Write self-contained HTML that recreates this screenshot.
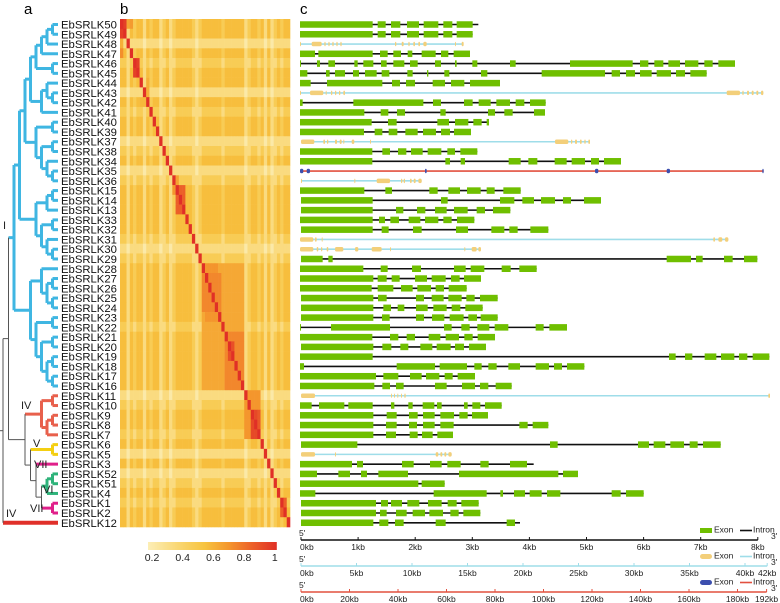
<!DOCTYPE html>
<html><head><meta charset="utf-8">
<style>
html,body{margin:0;padding:0;background:#fff;}
svg{display:block;font-family:"Liberation Sans",sans-serif;}
</style></head>
<body>
<svg id="fig" width="780" height="603" viewBox="0 0 780 603" xmlns="http://www.w3.org/2000/svg">
<text x="24" y="14" font-size="15">a</text>
<text x="120" y="14" font-size="15">b</text>
<text x="300" y="14" font-size="15">c</text>
<g id="tree"></g>
<g id="labels"></g>
<g id="heat"></g>
<g id="cbar"></g>
<g id="genes"></g>
<g id="axes"></g>
</svg>
<script>
// ---------- data ----------
const geneNames = ["50","49","48","47","46","45","44","43","42","41","40","39","37","38","34","35","36","15","14","13","33","32","31","30","29","28","27","26","25","24","23","22","21","20","19","18","17","16","11","10","9","8","7","6","5","3","52","51","4","1","2","12"];
const lightIdx = [2,7,12,15,23,38,44,46];
const midIdx = [4,9,13,16,22,24,31,39,42,47,49];
// heatmap blocks: [rowStart,rowEnd,colStart,colEnd,value]
const heatBlocks = [
 [0,1,0,1,0.95],[3,3,0,0,0.72],[0,0,2,2,0.65],[4,5,4,5,0.95],[6,8,8,8,0.62],
 [17,19,17,19,0.85],[16,17,16,16,0.7],
 [25,37,25,37,0.64],[26,29,25,30,0.74],[32,37,32,37,0.74],[33,34,33,34,0.9],
 [38,42,38,42,0.7],[40,42,40,41,0.92],[49,50,49,50,0.85]
];
const heatBase = 0.57, heatMid = 0.48, heatLight = 0.35, heatLighter = 0.24;
// gene structures (positions in structure units along panel c)
const genes = [
{t:'g',ex:[[15,233],[248,272],[288,316],[336,372],[386,430],[445,472],[485,533]],end:550},
{t:'g',ex:[[15,233],[248,272],[288,316],[336,372],[386,430],[445,472],[485,533]]},
{t:'y',ex:[[15,18],[50,80],[88,92],[100,104],[112,116],[124,128],[136,140],[300,304],[320,326],[340,344],[355,360],[370,375],[385,395],[480,483],[500,506]],end:505},
{t:'g',ex:[[15,60],[70,233],[255,278],[295,318],[338,352],[380,422],[438,460],[476,525]]},
{t:'g',ex:[[15,18],[66,75],[100,120],[178,188],[205,235],[258,275],[295,328],[345,368],[420,438],[480,485],[532,547],[645,662],[825,1013],[1035,1060],[1078,1105],[1120,1155],[1170,1210],[1228,1253],[1270,1320]]},
{t:'g',ex:[[15,37],[93,104],[120,150],[174,192],[210,245],[260,283],[337,353],[396,400],[448,463],[558,577],[740,930],[950,975],[993,1020],[1035,1070],[1085,1128],[1143,1170],[1186,1235]]},
{t:'g',ex:[[15,47],[96,262],[291,315],[333,360],[413,450],[468,508],[525,615]]},
{t:'y',ex:[[15,18],[45,85],[92,95],[108,112],[120,124],[132,136],[145,150],[1295,1335],[1342,1346],[1356,1362],[1370,1376],[1384,1390],[1398,1405]]},
{t:'g',ex:[[15,23],[175,385],[414,438],[507,533],[551,587],[604,645],[662,688],[705,752]]},
{t:'g',ex:[[15,208],[257,280],[306,330],[436,452],[579,600],[628,653],[717,750]]},
{t:'g',ex:[[15,230],[279,305],[427,462],[480,520],[535,560],[575,582]]},
{t:'g',ex:[[15,207],[239,262],[281,307],[331,368],[384,423],[438,465],[477,528]]},
{t:'y',ex:[[18,58],[85,90],[96,100],[120,126],[134,140],[145,148],[170,178],[225,228],[780,820],[828,832],[840,846],[855,860],[868,872],[880,885]]},
{t:'g',ex:[[15,232],[262,285],[309,334],[348,383],[398,439],[457,480],[496,547]]},
{t:'g',ex:[[15,232],[451,465],[497,510],[641,677],[700,727],[779,815],[830,870],[888,912],[927,978]]},
{t:'r',ex:[[15,25],[35,45],[390,395],[900,910],[1115,1125],[1402,1406]]},
{t:'y',ex:[[18,20],[178,180],[245,285],[318,322],[326,330],[345,350],[356,362],[370,380]]},
{t:'g',ex:[[15,208],[271,291],[403,428],[460,495],[516,557],[575,599],[625,677]]},
{t:'g',ex:[[18,233],[438,458],[615,658],[682,717],[738,780],[804,828],[867,918]]},
{t:'g',ex:[[18,233],[303,325],[366,391],[420,455],[477,518],[545,570],[594,646]]},
{t:'g',ex:[[15,233],[252,270],[286,312],[341,376],[390,430],[445,470],[486,538]]},
{t:'g',ex:[[18,233],[260,281],[354,380],[483,519],[589,628],[643,668],[706,760]]},
{t:'y',ex:[[15,55],[60,65],[80,82],[1255,1260],[1270,1282],[1290,1300]]},
{t:'y',ex:[[15,55],[65,70],[78,82],[95,100],[120,145],[180,190],[230,260],[285,288],[508,510],[530,545],[550,558]]},
{t:'g',ex:[[18,83],[100,113],[1115,1188],[1203,1223],[1287,1313],[1347,1387]]},
{t:'g',ex:[[15,205],[257,278],[351,378],[477,512],[527,568],[620,647],[673,725]]},
{t:'g',ex:[[15,235],[248,275],[290,314],[360,396],[410,452],[468,494],[507,558]]},
{t:'g',ex:[[15,230],[248,295],[318,353],[367,408],[422,447],[461,515]]},
{t:'g',ex:[[18,235],[249,275],[363,387],[410,446],[460,500],[514,539],[555,608]]},
{t:'g',ex:[[18,235],[265,288],[308,328],[363,398],[415,455],[470,496],[511,563]]},
{t:'g',ex:[[18,235],[261,284],[363,387],[411,448],[464,506],[520,546],[557,608]]},
{t:'g',ex:[[15,17],[108,285],[447,470],[499,524],[547,583],[599,640],[722,746],[763,816]]},
{t:'g',ex:[[15,232],[285,310],[335,360],[401,436],[452,492],[508,533],[548,600]]},
{t:'g',ex:[[18,235],[262,289],[316,340],[376,412],[425,467],[480,507],[522,573]]},
{t:'g',ex:[[15,233],[1122,1142],[1170,1192],[1229,1264],[1278,1318],[1332,1357],[1373,1423]]},
{t:'g',ex:[[15,27],[305,420],[434,516],[538,560],[580,605],[640,675],[722,762],[777,801],[816,868]]},
{t:'g',ex:[[15,243],[265,310],[345,380],[393,433],[449,473],[488,540]]},
{t:'g',ex:[[15,238],[262,285],[303,326],[420,455],[501,540],[555,580],[602,650]]},
{t:'y',ex:[[18,60],[288,291],[297,300],[307,310],[318,321],[328,332],[1420,1425]]},
{t:'g',ex:[[15,50],[72,148],[160,233],[288,298],[340,353],[383,418],[426,440],[507,518],[532,556],[570,620]]},
{t:'g',ex:[[15,235],[275,305],[342,368],[384,419],[436,477],[493,518],[531,579]]},
{t:'g',ex:[[15,235],[273,305],[342,366],[384,419],[436,476],[673,698],[713,760]]},
{t:'g',ex:[[15,235],[273,303],[344,368],[381,413],[427,474]]},
{t:'g',ex:[[18,187],[765,788],[1029,1062],[1076,1111],[1126,1167],[1184,1208],[1224,1277]]},
{t:'y',ex:[[18,60],[120,122],[422,430],[436,442],[448,454],[460,470]]},
{t:'g',ex:[[15,171],[186,204],[321,356],[405,440],[457,497],[556,581],[645,696]],end:716},
{t:'g',ex:[[15,66],[130,165],[198,216],[250,339],[492,790],[804,849]]},
{t:'g',ex:[[15,370],[380,449]]},
{t:'g',ex:[[15,61],[416,575],[616,624],[657,690],[704,740],[756,796],[950,977],[993,1046]]},
{t:'g',ex:[[18,243],[258,279],[288,321],[337,373],[399,440],[458,485],[499,551]]},
{t:'g',ex:[[18,243],[255,275],[303,335],[353,390],[403,444],[466,491],[505,556]]},
{t:'g',ex:[[18,235],[253,280],[300,326],[422,452],[635,660]],end:675}
];
const scale1Ticks = [0,1,2,3,4,5,6,7,8];
const scale2Ticks = [0,5,10,15,20,25,30,35,40,42];
const scale3Ticks = [0,20,40,60,80,100,120,140,160,180,192];
const cbarTicks = [0.2,0.4,0.6,0.8,1];
// tree topology
const blueA = [[[[[["50","49"],"48"],"47"],["46","45"]],[["44",["43","42"]],"41"]],[["40","39"],[["37","38"],["34",["35","36"]]]]];
const blueB = [[["15","14"],"13"],[["33","32"],["31",["30","29"]]]];
const blueC = [["28",[["27","26"],["25","24"]]],[["23","22"],[["21","20"],[["19","18"],["17","16"]]]]];
const treeData = [[{col:'#3fb6e2',t:[[blueA,blueB],blueC]},
  [{col:'#e8604c',t:[["11","10"],[["9","8"],"7"]]},
   [{col:'#f4cf12',t:["6","5"]},[{col:'#e0208a',t:"3"},[{col:'#2eb37a',t:[["52","51"],"4"]},{col:'#e0208a',t:["1","2"]}]]]]],
  {col:'#e0302a',t:"12",w:4}];

// ---------- scales ----------
const NS='http://www.w3.org/2000/svg';
const rowY = i => 24.5 + i*9.77;
const hmX = c => 120 + c*170/52;
const hmY = r => 19 + r*508/52;
const structX = v => 295 + v/3;
const s1X = k => 301 + k*57.1;
const s2X = k => 301 + k*11.1;
const s3X = k => 301 + k*2.425;
const cbX = v => 152 + (v-0.2)*153.5;
function mk(tag, attrs, parent){const e=document.createElementNS(NS,tag);for(const k in attrs)e.setAttribute(k,attrs[k]);parent.appendChild(e);return e;}
function heatColor(v){
  const stops=[[0.2,[252,238,182]],[0.4,[249,213,110]],[0.55,[247,196,64]],[0.7,[244,150,45]],[0.85,[236,95,40]],[1,[224,48,38]]];
  v=Math.max(0.2,Math.min(1,v));
  for(let i=0;i<stops.length-1;i++){const a=stops[i],b=stops[i+1];if(v<=b[0]){const t=(v-a[0])/(b[0]-a[0]);return 'rgb('+a[1].map((x,j)=>Math.round(x+(b[1][j]-x)*t)).join(',')+')';}}
  return 'rgb(224,48,38)';
}

// ---------- labels ----------
const lab=document.getElementById('labels');
geneNames.forEach((n,i)=>{
  const t=mk('text',{x:61,y:rowY(i)+4,'font-size':11.3,fill:'#111'},lab);
  t.textContent='EbSRLK'+n;
  
  
});

// ---------- tree ----------
const tg=document.getElementById('tree');
const leafX=58, step=5.5;
function height(n){if(typeof n==='string')return 0;if(!Array.isArray(n))return height(n.t);return 1+Math.max(...n.map(height));}
function lay(n,col,px,w){
  if(!Array.isArray(n)&&typeof n==='object'){return lay(n.t,n.col,px,n.w||3);}
  let x,y;
  if(typeof n==='string'){x=leafX;y=rowY(geneNames.indexOf(n));}
  else{
    x=Math.max(leafX-height(n)*step,(px==null?3:px+3));
    const kids=n.map(c=>lay(c,col,x,w));
    const ys=kids.map(k=>k.y);
    y=(Math.min(...ys)+Math.max(...ys))/2;
    const v=mk('line',{x1:x,x2:x,y1:Math.min(...ys),y2:Math.max(...ys),stroke:col,'stroke-width':col==='#555'?1:3},tg);
    
    
  }
  if(px!=null){
    const h=mk('line',{x1:px,x2:x,y1:y,y2:y,stroke:col,'stroke-width':col==='#555'?1:w},tg);
    
    
  }
  return {x,y};
}
const root=lay(treeData,'#555',null,1);
mk('line',{x1:0,x2:root.x,y1:root.y,y2:root.y,stroke:'#555','stroke-width':1},tg);
[['I',3,229],['IV',21,409],['V',33,447],['VII',34,468],['VI',43,493],['VII',30,512],['IV',6,517]].forEach(c=>{
  const t=mk('text',{x:c[1],y:c[2],'font-size':11,fill:'#222'},tg);t.textContent=c[0];
  
  
});

// ---------- heatmap ----------
const hg=document.getElementById('heat');
function lvl(i){return lightIdx.includes(i)?2:(midIdx.includes(i)?1:0);}
for(let r=0;r<52;r++)for(let c=0;c<52;c++){
  const L=lvl(r)+lvl(c);
  let v=[heatBase,heatMid,heatLight,heatLight,heatLighter][L];
  heatBlocks.forEach(b=>{if(r>=b[0]&&r<=b[1]&&c>=b[2]&&c<=b[3])v=Math.max(v,b[4]);if(c>=b[0]&&c<=b[1]&&r>=b[2]&&r<=b[3])v=Math.max(v,b[4]*0.95);});
  if(r===c)v=1;
  const e=mk('rect',{x:hmX(c),y:hmY(r),width:170/52+0.3,height:508/52+0.3,fill:heatColor(v)},hg);
  
  
}
// color bar
const cg=document.getElementById('cbar');
const defs=mk('defs',{},cg);const gr=mk('linearGradient',{id:'cbg',x1:0,x2:1,y1:0,y2:0},defs);
[0.2,0.4,0.55,0.7,0.85,1].forEach(v=>mk('stop',{offset:(v-0.2)/0.8,'stop-color':heatColor(v)},gr));
mk('rect',{x:cbX(0.2)-4,y:542,width:cbX(1)-cbX(0.2)+6,height:8,fill:'url(#cbg)'},cg);
cbarTicks.forEach(v=>{const t=mk('text',{x:cbX(v),y:561,'font-size':10.5,'text-anchor':'middle',fill:'#222'},cg);t.textContent=String(v);
  
  });

// ---------- gene structures ----------
const gg=document.getElementById('genes');
genes.forEach((g,i)=>{
  const y=rowY(i);
  const s=g.ex[0][0], e=g.end||g.ex[g.ex.length-1][1];
  const lc=g.t==='g'?'#111':(g.t==='y'?'#9fdde9':'#e2503f');
  const ln=mk('line',{x1:structX(s),x2:structX(e),y1:y,y2:y,stroke:lc,'stroke-width':1.6},gg);
  
  
  const fc=g.t==='g'?'#6fbf00':(g.t==='y'?'#f3cf7a':'#3c4fae');
  const hh=g.t==='g'?6.5:4.5;
  g.ex.forEach(x=>{
    const r=mk('rect',{x:structX(x[0]),y:y-hh/2,width:Math.max(1,structX(x[1])-structX(x[0])),height:hh,fill:fc,rx:g.t==='g'?0:1.5},gg);
    
    
  });
});

// ---------- scale axes ----------
const ag=document.getElementById('axes');
function axis(y,ticks,fx,col,suffix,legFill,legLine,round){
  mk('line',{x1:301,x2:fx(ticks[ticks.length-1]),y1:y,y2:y,stroke:col,'stroke-width':1.6},ag);
  ticks.forEach(k=>{mk('line',{x1:fx(k),x2:fx(k),y1:y-3,y2:y,stroke:col,'stroke-width':1},ag);
    const t=mk('text',{x:fx(k)+(k===0?-1:0),y:y+10,'font-size':8.5,'text-anchor':k===0?'start':'middle',fill:'#222'},ag);t.textContent=k+suffix;
    
    });
  const f=mk('text',{x:299,y:y-4,'font-size':8.5,fill:'#222'},ag);f.textContent="5'";
  const th=mk('text',{x:771,y:y-1,'font-size':8.5,fill:'#222'},ag);th.textContent="3'";
  mk('rect',{x:700,y:y-12,width:12,height:5,fill:legFill,rx:round?2.5:0},ag);
  const ex=mk('text',{x:714,y:y-7.5,'font-size':8.5,fill:'#222'},ag);ex.textContent='Exon';
  mk('line',{x1:740,x2:752,y1:y-9.5,y2:y-9.5,stroke:legLine,'stroke-width':1.6},ag);
  const it=mk('text',{x:753,y:y-7.5,'font-size':8.5,fill:'#222'},ag);it.textContent='Intron';
}
axis(540,scale1Ticks,s1X,'#111','kb','#6fbf00','#111',false);
axis(566,scale2Ticks,s2X,'#9fdde9','kb','#f3cf7a','#9fdde9',true);
axis(592,scale3Ticks,s3X,'#e2503f','kb','#3c4fae','#e2503f',true);
</script>
</body></html>
